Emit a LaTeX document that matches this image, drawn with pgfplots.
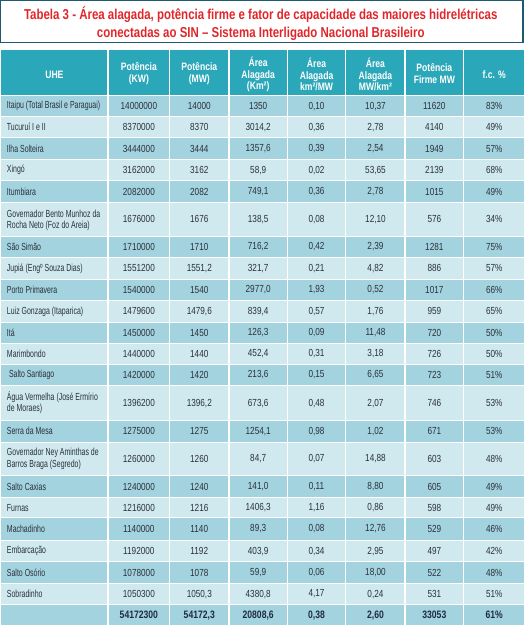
\documentclass[border=0pt]{standalone}
\usepackage{fontspec}
\setmainfont{Liberation Sans}[FakeStretch=0.8]
\newfontfamily\namefont{Liberation Sans}[FakeStretch=0.68]
\newfontfamily\titlefont{Liberation Sans}[FakeStretch=0.8]
\usepackage{pgfplots}
\usepackage{pgfplotstable}
\pgfplotsset{compat=1.18}
\definecolor{hdr}{HTML}{2AA7B8}
\definecolor{rowdark}{HTML}{A3D3DF}
\definecolor{rowlight}{HTML}{CFE9EF}
\definecolor{ttlred}{HTML}{E0262A}
\definecolor{boxc}{HTML}{1D5A70}
\definecolor{txt}{HTML}{2B303A}
\definecolor{tot}{HTML}{1F2A44}

\pgfplotstableread[col sep=semicolon]{
y;kw;mw;area;kmmw;mwkm;firme;fc
106;14000000;14000;1350;0,10;10,37;11620;83\%
126.5;8370000;8370;3014,2;0,36;2,78;4140;49\%
147.5;3444000;3444;1357,6;0,39;2,54;1949;57\%
168.5;3162000;3162;58,9;0,02;53,65;2139;68\%
189.5;2082000;2082;749,1;0,36;2,78;1015;49\%
216.5;1676000;1676;138,5;0,08;12,10;576;34\%
243.5;1710000;1710;716,2;0,42;2,39;1281;75\%
264.5;1551200;1551,2;321,7;0,21;4,82;886;57\%
285.5;1540000;1540;2977,0;1,93;0,52;1017;66\%
306.5;1479600;1479,6;839,4;0,57;1,76;959;65\%
327.5;1450000;1450;126,3;0,09;11,48;720;50\%
348;1440000;1440;452,4;0,31;3,18;726;50\%
368.5;1420000;1420;213,6;0,15;6,65;723;51\%
396;1396200;1396,2;673,6;0,48;2,07;746;53\%
423.5;1275000;1275;1254,1;0,98;1,02;671;53\%
450.5;1260000;1260;84,7;0,07;14,88;603;48\%
477.5;1240000;1240;141,0;0,11;8,80;605;49\%
498;1216000;1216;1406,3;1,16;0,86;598;49\%
519;1140000;1140;89,3;0,08;12,76;529;46\%
540.5;1192000;1192;403,9;0,34;2,95;497;42\%
561.5;1078000;1078;59,9;0,06;18,00;522;48\%
582.5;1050300;1050,3;4380,8;4,17;0,24;531;51\%
}\datatable

\pgfplotstableread[col sep=semicolon]{
y;kw;mw;area;kmmw;mwkm;firme;fc
603;54172300;54172,3;20808,6;0,38;2,60;33053;61\%
}\totaltable

\pgfplotstableread[col sep=semicolon]{
y;name
106;Itaipu (Total Brasil e Paraguai)
126.5;Tucuruí I e II
147.5;Ilha Solteira
168.5;Xingó
189.5;Itumbiara
211;Governador Bento Munhoz da
222.5;Rocha Neto (Foz do Areia)
243.5;São Simão
264.5;Jupiá (Engº Souza Dias)
285.5;Porto Primavera
306.5;Luiz Gonzaga (Itaparica)
327.5;Itá
348;Marimbondo
368.5;\hspace{2pt}Salto Santiago
390.5;Água Vermelha (José Ermírio
402;de Moraes)
423.5;Serra da Mesa
445;Governador Ney Aminthas de
456.5;Barros Braga (Segredo)
477.5;Salto Caxias
498;Furnas
519;Machadinho
540.5;Embarcação
561.5;Salto Osório
582.5;Sobradinho
}\nametable

\pgfplotsset{
  celltext/.style={draw=none, mark=none, nodes near coords,
    point meta=explicit symbolic,
    every node near coord/.style={anchor=center, inner sep=0pt, text=txt, font=\fontsize{10}{12}\selectfont}},
  totaltext/.style={draw=none, mark=none, nodes near coords,
    point meta=explicit symbolic,
    every node near coord/.style={anchor=center, inner sep=0pt, text=tot, font=\fontsize{10.5}{12}\selectfont\bfseries}},
}

\begin{document}
\begin{tikzpicture}
\begin{axis}[
  scale only axis, width=524pt, height=626pt,
  xmin=0, xmax=524, ymin=0, ymax=626, y dir=reverse,
  axis lines=none, clip=false, xtick=\empty, ytick=\empty,
]
% title box
\draw[boxc, line width=1.2pt] (axis cs:3,3) rectangle (axis cs:513,44);
\node[text=ttlred, font=\titlefont\fontsize{14}{17}\selectfont\bfseries, align=center, anchor=center]
  at (axis cs:257,25.5) {Tabela 3 - Área alagada, potência firme e fator de capacidade das maiores hidrelétricas\\conectadas ao SIN – Sistema Interligado Nacional Brasileiro};
% header
\fill[hdr] (axis cs:3,51) rectangle (axis cs:514,95);
% rows
\fill[rowdark]  (axis cs:3,96.5) rectangle (axis cs:514,116);
\fill[rowlight] (axis cs:3,116) rectangle (axis cs:514,137);
\fill[rowdark]  (axis cs:3,137) rectangle (axis cs:514,158);
\fill[rowlight] (axis cs:3,158) rectangle (axis cs:514,179);
\fill[rowdark]  (axis cs:3,179) rectangle (axis cs:514,200);
\fill[rowlight] (axis cs:3,200) rectangle (axis cs:514,233);
\fill[rowdark]  (axis cs:3,233) rectangle (axis cs:514,254);
\fill[rowlight] (axis cs:3,254) rectangle (axis cs:514,275);
\fill[rowdark]  (axis cs:3,275) rectangle (axis cs:514,296);
\fill[rowlight] (axis cs:3,296) rectangle (axis cs:514,317);
\fill[rowdark]  (axis cs:3,317) rectangle (axis cs:514,338);
\fill[rowlight] (axis cs:3,338) rectangle (axis cs:514,358);
\fill[rowdark]  (axis cs:3,358) rectangle (axis cs:514,379);
\fill[rowlight] (axis cs:3,379) rectangle (axis cs:514,413);
\fill[rowdark]  (axis cs:3,413) rectangle (axis cs:514,434);
\fill[rowlight] (axis cs:3,434) rectangle (axis cs:514,467);
\fill[rowdark]  (axis cs:3,467) rectangle (axis cs:514,488);
\fill[rowlight] (axis cs:3,488) rectangle (axis cs:514,508);
\fill[rowdark]  (axis cs:3,508) rectangle (axis cs:514,530);
\fill[rowlight] (axis cs:3,530) rectangle (axis cs:514,551);
\fill[rowdark]  (axis cs:3,551) rectangle (axis cs:514,572);
\fill[rowlight] (axis cs:3,572) rectangle (axis cs:514,593);
\fill[rowdark]  (axis cs:3,593) rectangle (axis cs:514,613);
% white separators
\pgfplotsinvokeforeach{116,137,158,179,200,233,254,275,296,317,338,358,379,413,434,467,488,508,530,551,572,593}{
  \draw[white, line width=1pt] (axis cs:3,#1) -- (axis cs:514,#1);
}
\pgfplotsinvokeforeach{108,168,226,283,340,398,455}{
  \draw[white, line width=1.3pt] (axis cs:#1,51) -- (axis cs:#1,613);
}
% header text
\begin{scope}[every node/.style={text=white, font=\fontsize{10.5}{11.5}\selectfont\bfseries, align=center, anchor=center, inner sep=0pt}]
\node at (axis cs:55.5,75) {UHE};
\node at (axis cs:138,74) {Potência\\(KW)};
\node at (axis cs:197,74) {Potência\\(MW)};
\node at (axis cs:254.5,75) {Área\\Alagada\\(Km²)};
\node at (axis cs:311.5,75) {Área\\Alagada\\km²/MW};
\node at (axis cs:369,75) {Área\\Alagada\\MW/km²};
\node at (axis cs:426.5,74) {Potência\\Firme MW};
\node at (axis cs:485,75) {f.c. \%};
\end{scope}
% names
\addplot[draw=none, mark=none, nodes near coords, point meta=explicit symbolic,
  every node near coord/.style={anchor=west, inner sep=0pt, text=txt, font=\namefont\fontsize{10}{12}\selectfont}]
  table[x expr=9, y=y, meta=name] {\nametable};
% values
\addplot[celltext] table[x expr=138, y=y, meta=kw] {\datatable};
\addplot[celltext] table[x expr=197, y=y, meta=mw] {\datatable};
\addplot[celltext] table[x expr=254.5, y=y, meta=area] {\datatable};
\addplot[celltext] table[x expr=311.5, y=y, meta=kmmw] {\datatable};
\addplot[celltext] table[x expr=369, y=y, meta=mwkm] {\datatable};
\addplot[celltext] table[x expr=426.5, y=y, meta=firme] {\datatable};
\addplot[celltext] table[x expr=485, y=y, meta=fc] {\datatable};
% totals
\addplot[totaltext] table[x expr=138, y=y, meta=kw] {\totaltable};
\addplot[totaltext] table[x expr=197, y=y, meta=mw] {\totaltable};
\addplot[totaltext] table[x expr=254.5, y=y, meta=area] {\totaltable};
\addplot[totaltext] table[x expr=311.5, y=y, meta=kmmw] {\totaltable};
\addplot[totaltext] table[x expr=369, y=y, meta=mwkm] {\totaltable};
\addplot[totaltext] table[x expr=426.5, y=y, meta=firme] {\totaltable};
\addplot[totaltext] table[x expr=485, y=y, meta=fc] {\totaltable};
\end{axis}
\end{tikzpicture}
\end{document}
